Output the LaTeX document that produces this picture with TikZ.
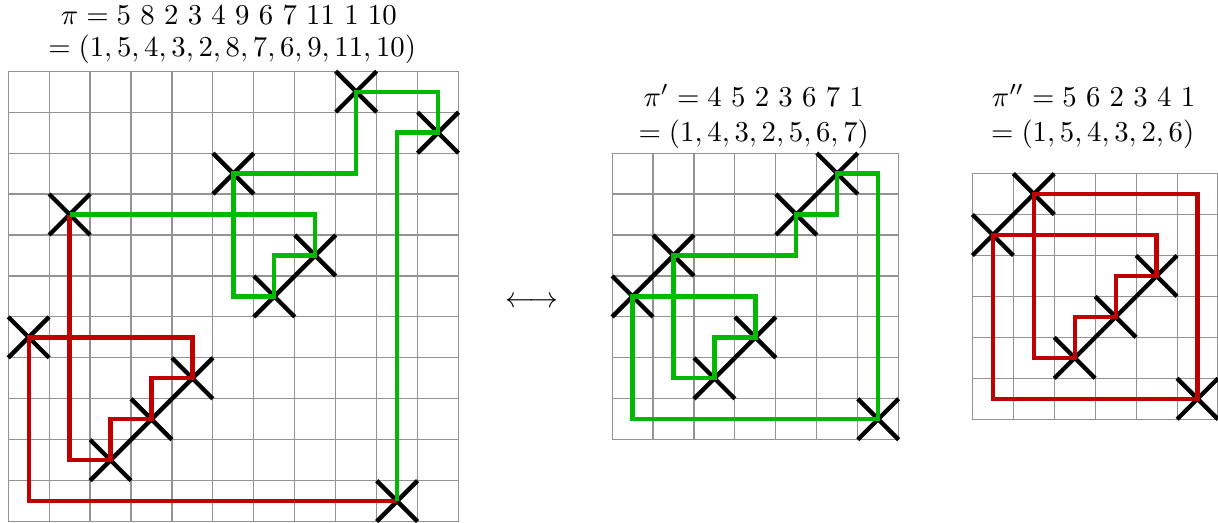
\documentclass[tikz,border=0pt]{standalone}
\definecolor{pathred}{RGB}{190,0,0}
\definecolor{pathgreen}{RGB}{0,185,0}
\tikzset{
  gridline/.style={draw=gray!85, line width=0.4pt},
  crossline/.style={draw=black, line width=1.5pt},
  redpath/.style={draw=pathred, line width=1.5pt},
  greenpath/.style={draw=pathgreen, line width=1.5pt},
  titletext/.style={anchor=base, inner sep=0pt, font=\fontsize{9.7}{11.6}\selectfont},
  crosspic/.pic={\draw[crossline] (-0.5,-0.5) -- (0.5,0.5) (-0.5,0.5) -- (0.5,-0.5);}
}
\begin{document}
\begin{tikzpicture}[x=0.5cm,y=0.5cm]
\useasboundingbox (-0.2,-0.032) rectangle (29.55,12.74);

% left grid
\begin{scope}
  \draw[gridline, step=0.5cm] (0,0) grid (11,11);
  \foreach \v [count=\i] in {5,8,2,3,4,9,6,7,11,1,10} {
    \coordinate (a\i) at (\i-0.5,\v-0.5);
    \pic at (a\i) {crosspic};
  }
\end{scope}

% middle grid
\begin{scope}[shift={(14.75,2)}]
  \draw[gridline, step=0.5cm] (0,0) grid (7,7);
  \foreach \v [count=\i] in {4,5,2,3,6,7,1} {
    \coordinate (b\i) at (\i-0.5,\v-0.5);
    \pic at (b\i) {crosspic};
  }
\end{scope}

% right grid
\begin{scope}[shift={(23.55,2.5)}]
  \draw[gridline, step=0.5cm] (0,0) grid (6,6);
  \foreach \v [count=\i] in {5,6,2,3,4,1} {
    \coordinate (c\i) at (\i-0.5,\v-0.5);
    \pic at (c\i) {crosspic};
  }
\end{scope}

% cycle paths
\draw[redpath] (a10) -| (a1) -| (a5) -| (a4) -| (a3) -| (a2);
\draw[greenpath] (a2) -| (a8) -| (a7) -| (a6) -| (a9) -| (a11) -| (a10);
\draw[greenpath, line cap=rect] (b1) -| (b4) -| (b3) -| (b2) -| (b5) -| (b6) -| (b7) -| (b1);
\draw[redpath, line cap=rect] (c1) -| (c5) -| (c4) -| (c3) -| (c2) -| (c6) -| (c1);

% titles
\node[titletext] (t1a) at (5.39,12.13) {$\pi = 5\ 8\ 2\ 3\ 4\ 9\ 6\ 7\ 11\ 1\ 10$};
\node[titletext] (t1b) at (5.47,11.36) {$= (1,5,4,3,2,8,7,6,9,11,10)$};
\node[titletext] (t2a) at (18.21,10.15) {$\pi' = 4\ 5\ 2\ 3\ 6\ 7\ 1$};
\node[titletext] (t2b) at (18.21,9.28) {$= (1,4,3,2,5,6,7)$};
\node[titletext] (t3a) at (26.51,10.15) {$\pi'' = 5\ 6\ 2\ 3\ 4\ 1$};
\node[titletext] (t3b) at (26.49,9.28) {$= (1,5,4,3,2,6)$};

\node[inner sep=0pt, font=\fontsize{9.7}{11.6}\selectfont] (arr) at (12.78,5.37) {$\longleftrightarrow$};
\end{tikzpicture}
\end{document}
